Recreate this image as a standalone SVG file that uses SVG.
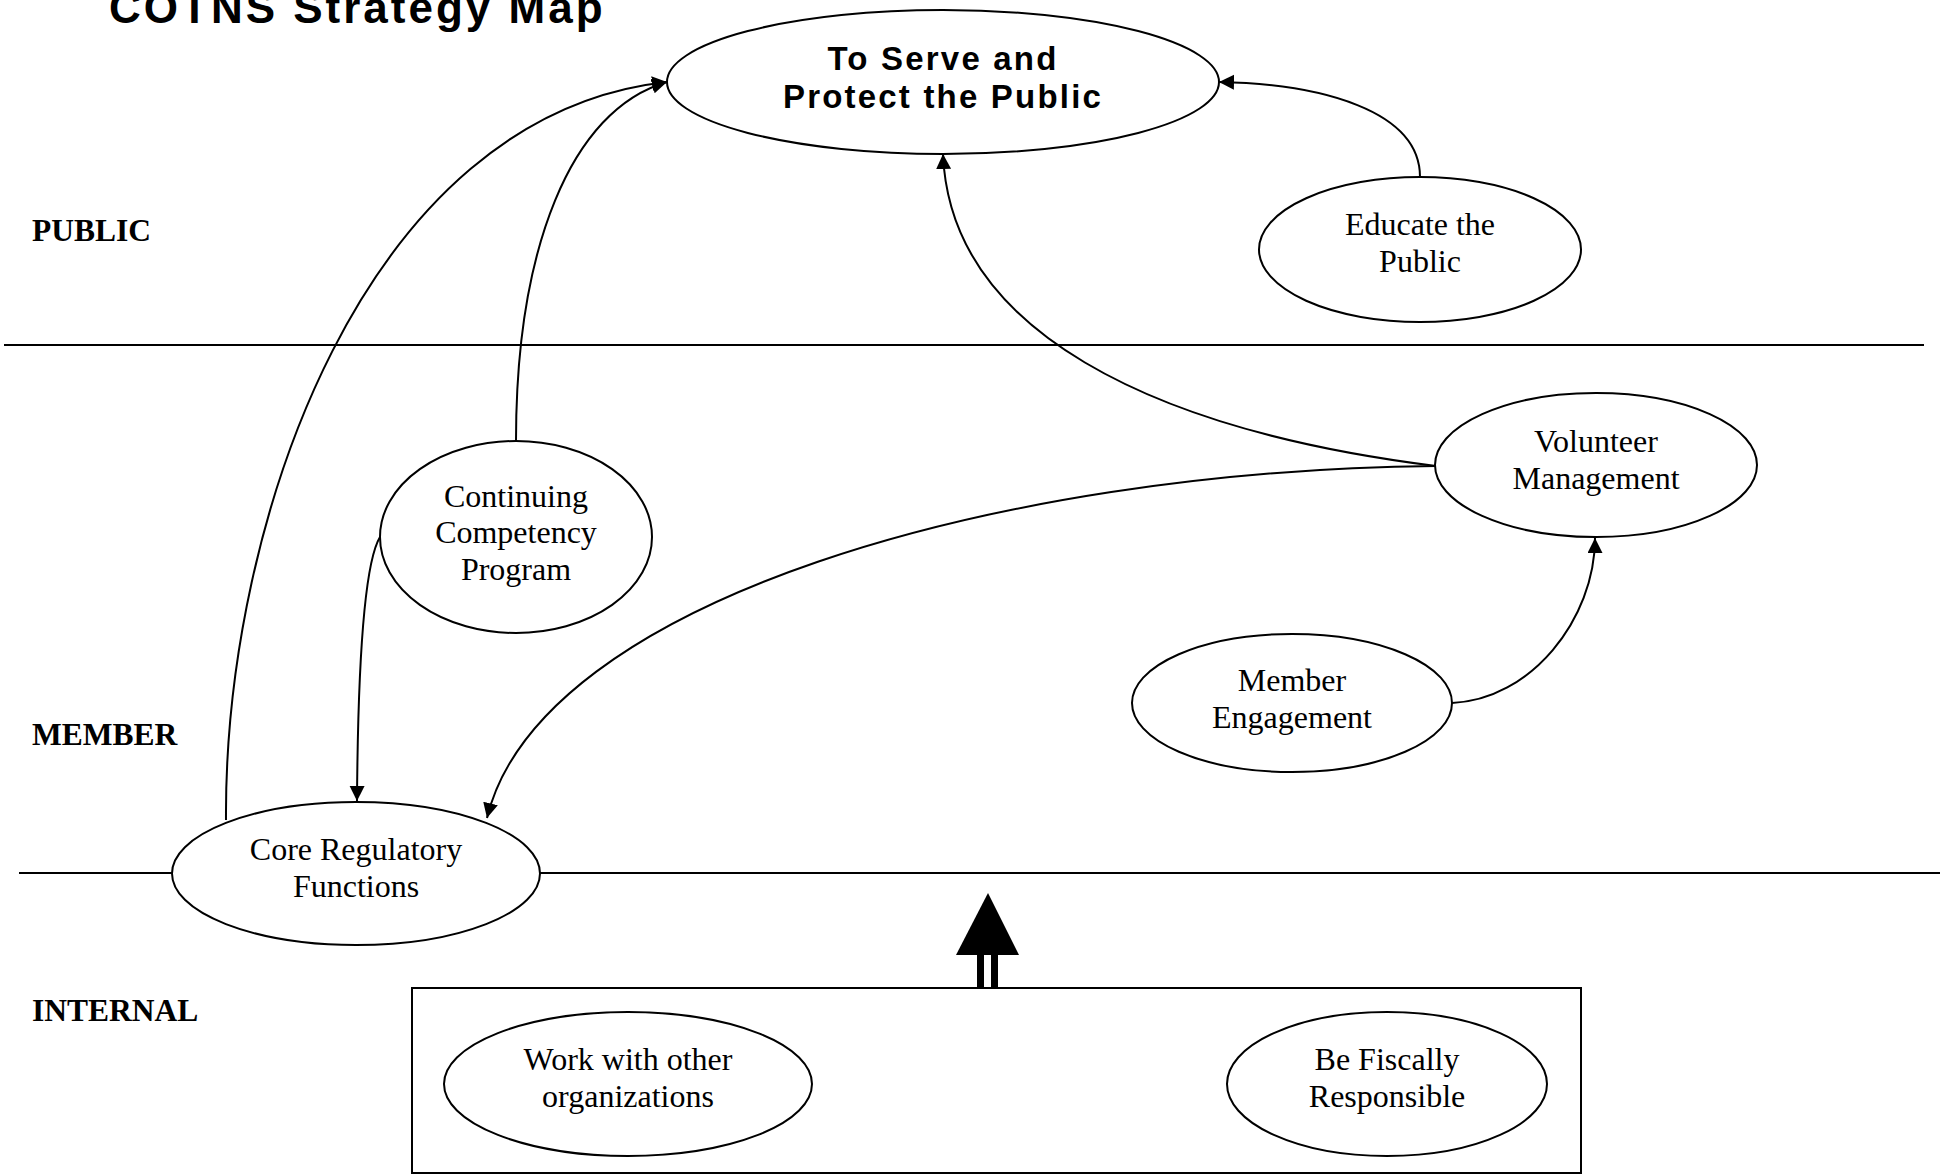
<svg xmlns="http://www.w3.org/2000/svg" width="1944" height="1175" viewBox="0 0 1944 1175">
<style>
.n{fill:#fff;stroke:#000;stroke-width:2}
.t{font-family:"Liberation Serif","Times New Roman",serif;font-size:32px;text-anchor:middle;fill:#000}
.h{font-family:"Liberation Serif","Times New Roman",serif;font-size:31.5px;font-weight:bold;fill:#000}
.b{font-family:"Liberation Sans",Arial,sans-serif;font-weight:bold;fill:#000}
.c{fill:none;stroke:#000;stroke-width:2;marker-end:url(#ah)}
.l{stroke:#000;stroke-width:2;fill:none}
</style>
<defs>
<marker id="ah" markerUnits="userSpaceOnUse" markerWidth="17" markerHeight="17" refX="15" refY="7.5" orient="auto">
<path d="M0,0 L15,7.5 L0,15 Z" fill="#000"/>
</marker>
</defs>
<rect width="1944" height="1175" fill="#fff"/>
<text class="b" x="109" y="23" font-size="44" letter-spacing="3">COTNS Strategy Map</text>
<g id="lanes">
<line class="l" x1="4" y1="345" x2="1924" y2="345"/>
<line class="l" x1="19" y1="873" x2="172" y2="873"/>
<line class="l" x1="540" y1="873" x2="1940" y2="873"/>
<text class="h" x="32" y="241">PUBLIC</text>
<text class="h" x="32" y="745">MEMBER</text>
<text class="h" x="32" y="1021">INTERNAL</text>
</g>
<g id="connectors">
<path class="c" d="M226,820 C224,520 365,115 667,82"/>
<path class="c" d="M516,441 C516,250 570,110 667,82"/>
<path class="c" d="M1420,177 C1420,110 1320,84 1219,82"/>
<path class="c" d="M1436,466 C1150,430 950,330 943,154"/>
<path class="c" d="M1436,466 C1000,470 540,600 487,818"/>
<path class="c" d="M380,537 C366,560 358,650 357,801"/>
<path class="c" d="M1452,703 C1530,700 1595,620 1595,538"/>
<g id="bigarrow" fill="#000">
<path d="M988,893 L1019,955 L956,955 Z"/>
<rect x="977" y="955" width="7" height="33"/>
<rect x="991" y="955" width="7" height="33"/>
</g>
</g>
<g id="main">
<ellipse class="n" cx="943" cy="82" rx="276" ry="72"/>
<text class="b" font-size="33" letter-spacing="2.2" text-anchor="middle" x="943" y="70">To Serve and</text>
<text class="b" font-size="33" letter-spacing="2.2" text-anchor="middle" x="943" y="108">Protect the Public</text>
</g>
<g id="educate">
<ellipse class="n" cx="1420" cy="249.5" rx="161" ry="72.5"/>
<text class="t" x="1420" y="235">Educate the</text>
<text class="t" x="1420" y="272">Public</text>
</g>
<g id="ccp">
<ellipse class="n" cx="516" cy="537" rx="136" ry="96"/>
<text class="t" x="516" y="507">Continuing</text>
<text class="t" x="516" y="543">Competency</text>
<text class="t" x="516" y="580">Program</text>
</g>
<g id="volunteer">
<ellipse class="n" cx="1596" cy="465" rx="161" ry="72"/>
<text class="t" x="1596" y="452">Volunteer</text>
<text class="t" x="1596" y="489">Management</text>
</g>
<g id="member">
<ellipse class="n" cx="1292" cy="703" rx="160" ry="69"/>
<text class="t" x="1292" y="691">Member</text>
<text class="t" x="1292" y="728">Engagement</text>
</g>
<g id="core">
<ellipse class="n" cx="356" cy="873.5" rx="184" ry="71.5"/>
<text class="t" x="356" y="860">Core Regulatory</text>
<text class="t" x="356" y="897">Functions</text>
</g>
<g id="internal">
<rect class="l" x="412" y="988" width="1169" height="185"/>
<g id="work">
<ellipse class="n" cx="628" cy="1084" rx="184" ry="72"/>
<text class="t" x="628" y="1070">Work with other</text>
<text class="t" x="628" y="1107">organizations</text>
</g>
<g id="fiscal">
<ellipse class="n" cx="1387" cy="1084" rx="160" ry="72"/>
<text class="t" x="1387" y="1070">Be Fiscally</text>
<text class="t" x="1387" y="1107">Responsible</text>
</g>
</g>
</svg>
